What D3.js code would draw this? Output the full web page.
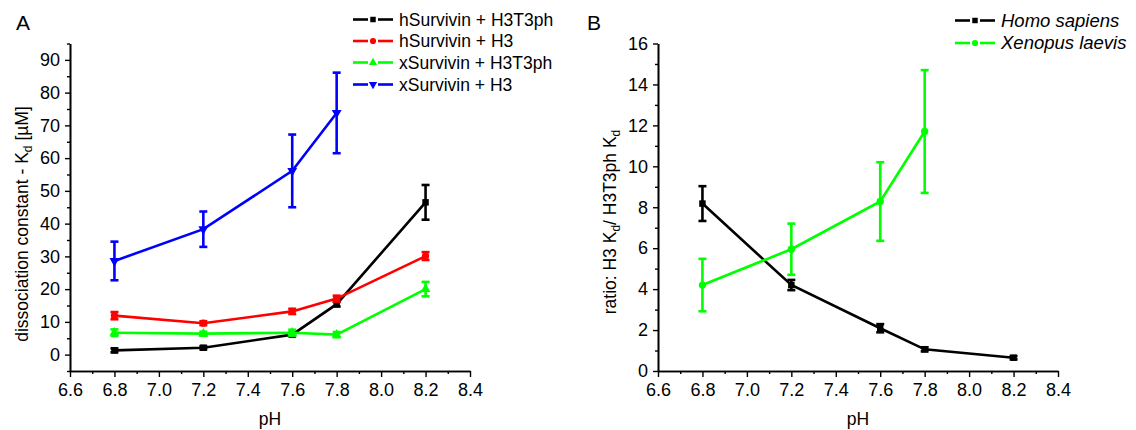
<!DOCTYPE html>
<html>
<head>
<meta charset="utf-8">
<script src="https://cdn.jsdelivr.net/npm/d3@7"></script>
<style>
  body { margin: 0; background: #fff; }
  text { font-family: "Liberation Sans", Arial, sans-serif; fill: #000; }
</style>
</head>
<body>
<svg id="chart" width="1136" height="430"></svg>
<script>
// pH values measured
const phAll = [6.8, 7.2, 7.6, 7.8, 8.2];
const phShort = [6.8, 7.2, 7.6, 7.8];

// panel A: dissociation constants (uM) and errors
const hSurvH3T3ph = [1.3, 2.1, 6.1, 15.4, 46.5];
const hSurvH3T3phErr = [0.6, 0.5, 0.5, 0.7, 5.3];
const hSurvH3 = [11.9, 9.6, 13.2, 17.1, 30.1];
const hSurvH3Err = [1.1, 0.6, 0.8, 0.9, 1.2];
const xSurvH3T3ph = [6.7, 6.4, 6.7, 6.1, 20.0];
const xSurvH3T3phErr = [1.0, 0.6, 0.9, 0.8, 2.2];
const xSurvH3 = [28.6, 38.3, 56.1, 73.8];
const xSurvH3Err = [5.9, 5.4, 11.1, 12.3];

// panel B: ratio H3 Kd / H3T3ph Kd
const homoRatio = [8.18, 4.2, 2.09, 1.06, 0.65];
const homoRatioErr = [0.85, 0.25, 0.2, 0.1, 0.08];
const xenoRatio = [4.2, 5.95, 8.28, 11.7];
const xenoRatioErr = [1.28, 1.25, 1.92, 3.0];

// ticks
const xMajor = [6.6, 6.8, 7.0, 7.2, 7.4, 7.6, 7.8, 8.0, 8.2, 8.4];
const xMinor = [6.7, 6.9, 7.1, 7.3, 7.5, 7.7, 7.9, 8.1, 8.3];
const yMajorA = [0, 10, 20, 30, 40, 50, 60, 70, 80, 90];
const yMinorA = [-5, 5, 15, 25, 35, 45, 55, 65, 75, 85, 95];
const yMajorB = [0, 2, 4, 6, 8, 10, 12, 14, 16];
const yMinorB = [1, 3, 5, 7, 9, 11, 13, 15];

const svg = d3.select("#chart");
const plotTop = 43.5, plotBottom = 371;

function makeAxes(g, x, y, yMajor, yMinor) {
  const xAx = g.append("g").attr("transform", `translate(0,${plotBottom})`);
  xAx.call(d3.axisBottom(x).tickValues(xMinor).tickSize(3).tickSizeOuter(0).tickFormat(""));
  xAx.append("g").call(d3.axisBottom(x).tickValues(xMajor).tickSize(6).tickPadding(6)
    .tickSizeOuter(0).tickFormat(d3.format(".1f")));

  const yAx = g.append("g").attr("transform", `translate(${x.range()[0]},0)`);
  yAx.call(d3.axisLeft(y).tickValues(yMinor).tickSize(3).tickSizeOuter(0).tickFormat(""));
  yAx.append("g").call(d3.axisLeft(y).tickValues(yMajor).tickSize(5).tickPadding(5)
    .tickSizeOuter(0).tickFormat(d3.format("d")));

  g.selectAll(".domain").attr("stroke", "#000").attr("stroke-width", 1.6);
  g.selectAll(".tick line").attr("stroke", "#000").attr("stroke-width", 1.4);
  g.selectAll(".tick text").style("font-size", "18px").attr("fill", "#000")
    .style("font-family", "'Liberation Sans', Arial, sans-serif");
}

function drawSeries(g, x, y, xs, vals, errs, color, symType, rotate) {
  const pts = xs.map((p, i) => ({ p, v: vals[i], e: errs[i] }));
  g.append("path")
    .datum(pts)
    .attr("fill", "none")
    .attr("stroke", color)
    .attr("stroke-width", 2.6)
    .attr("d", d3.line().x(d => x(d.p)).y(d => y(d.v)));

  const eb = g.append("g").attr("stroke", color).attr("stroke-width", 2.6);
  eb.selectAll(".bar").data(pts).enter().append("line")
    .attr("x1", d => x(d.p)).attr("x2", d => x(d.p))
    .attr("y1", d => y(d.v - d.e)).attr("y2", d => y(d.v + d.e));
  eb.selectAll(".capTop").data(pts).enter().append("line")
    .attr("x1", d => x(d.p) - 4).attr("x2", d => x(d.p) + 4)
    .attr("y1", d => y(d.v + d.e)).attr("y2", d => y(d.v + d.e));
  eb.selectAll(".capBot").data(pts).enter().append("line")
    .attr("x1", d => x(d.p) - 4).attr("x2", d => x(d.p) + 4)
    .attr("y1", d => y(d.v - d.e)).attr("y2", d => y(d.v - d.e));

  g.selectAll(null).data(pts).enter().append("path")
    .attr("d", d3.symbol().type(symType).size(42))
    .attr("fill", color)
    .attr("transform", d => `translate(${x(d.p)},${y(d.v)})${rotate ? " rotate(180)" : ""}`);
}

function legendRow(g, lx, ly, color, symType, rotate, label, italic, fs) {
  g.append("line").attr("x1", lx).attr("x2", lx + 15).attr("y1", ly).attr("y2", ly)
    .attr("stroke", color).attr("stroke-width", 2.6);
  g.append("line").attr("x1", lx + 25).attr("x2", lx + 40).attr("y1", ly).attr("y2", ly)
    .attr("stroke", color).attr("stroke-width", 2.6);
  g.append("path").attr("d", d3.symbol().type(symType).size(30)).attr("fill", color)
    .attr("transform", `translate(${lx + 20},${ly})${rotate ? " rotate(180)" : ""}`);
  g.append("text").attr("x", lx + 46).attr("y", ly + 6)
    .style("font-size", fs + "px")
    .style("font-style", italic ? "italic" : "normal")
    .text(label);
}

// ---------- Panel A ----------
const xA = d3.scaleLinear().domain([6.6, 8.4]).range([70, 470]);
const yA = d3.scaleLinear().domain([-5, 95]).range([plotBottom, plotTop]);
const gA = svg.append("g");
makeAxes(gA, xA, yA, yMajorA, yMinorA);

drawSeries(gA, xA, yA, phAll, hSurvH3T3ph, hSurvH3T3phErr, "#000000", d3.symbolSquare, false);
drawSeries(gA, xA, yA, phAll, hSurvH3, hSurvH3Err, "#ff0000", d3.symbolCircle, false);
drawSeries(gA, xA, yA, phAll, xSurvH3T3ph, xSurvH3T3phErr, "#00ff00", d3.symbolTriangle, false);
drawSeries(gA, xA, yA, phShort, xSurvH3, xSurvH3Err, "#0000ff", d3.symbolTriangle, true);

gA.append("text").attr("x", 16).attr("y", 30).style("font-size", "21px").text("A");
gA.append("text").attr("x", 270).attr("y", 425).attr("text-anchor", "middle")
  .style("font-size", "17.5px").text("pH");

const titleA = gA.append("text")
  .attr("transform", "translate(28,224) rotate(-90)")
  .attr("text-anchor", "middle")
  .style("font-size", "17.5px");
titleA.append("tspan").text("dissociation constant - K");
titleA.append("tspan").attr("dy", 4).style("font-size", "12px").text("d");
titleA.append("tspan").attr("dy", -4).text(" [\u00b5M]");

legendRow(gA, 353, 19.5, "#000000", d3.symbolSquare, false, "hSurvivin + H3T3ph", false, 17.5);
legendRow(gA, 353, 41, "#ff0000", d3.symbolCircle, false, "hSurvivin + H3", false, 17.5);
legendRow(gA, 353, 62.5, "#00ff00", d3.symbolTriangle, false, "xSurvivin + H3T3ph", false, 17.5);
legendRow(gA, 353, 84.5, "#0000ff", d3.symbolTriangle, true, "xSurvivin + H3", false, 17.5);

// ---------- Panel B ----------
const xB = d3.scaleLinear().domain([6.6, 8.4]).range([658, 1058]);
const yB = d3.scaleLinear().domain([0, 16]).range([plotBottom, plotTop]);
const gB = svg.append("g");
makeAxes(gB, xB, yB, yMajorB, yMinorB);

drawSeries(gB, xB, yB, phAll, homoRatio, homoRatioErr, "#000000", d3.symbolSquare, false);
drawSeries(gB, xB, yB, phShort, xenoRatio, xenoRatioErr, "#00ff00", d3.symbolCircle, false);

gB.append("text").attr("x", 587).attr("y", 30).style("font-size", "21px").text("B");
gB.append("text").attr("x", 858).attr("y", 425).attr("text-anchor", "middle")
  .style("font-size", "17.5px").text("pH");

const titleB = gB.append("text")
  .attr("transform", "translate(616,222) rotate(-90)")
  .attr("text-anchor", "middle")
  .style("font-size", "17.5px");
titleB.append("tspan").text("ratio: H3 K");
titleB.append("tspan").attr("dy", 4).style("font-size", "12px").text("d");
titleB.append("tspan").attr("dy", -4).text("/ H3T3ph K");
titleB.append("tspan").attr("dy", 4).style("font-size", "12px").text("d");

legendRow(gB, 955, 20.5, "#000000", d3.symbolSquare, false, "Homo sapiens", true, 18.5);
legendRow(gB, 955, 43, "#00ff00", d3.symbolCircle, false, "Xenopus laevis", true, 18.5);
</script>
</body>
</html>
